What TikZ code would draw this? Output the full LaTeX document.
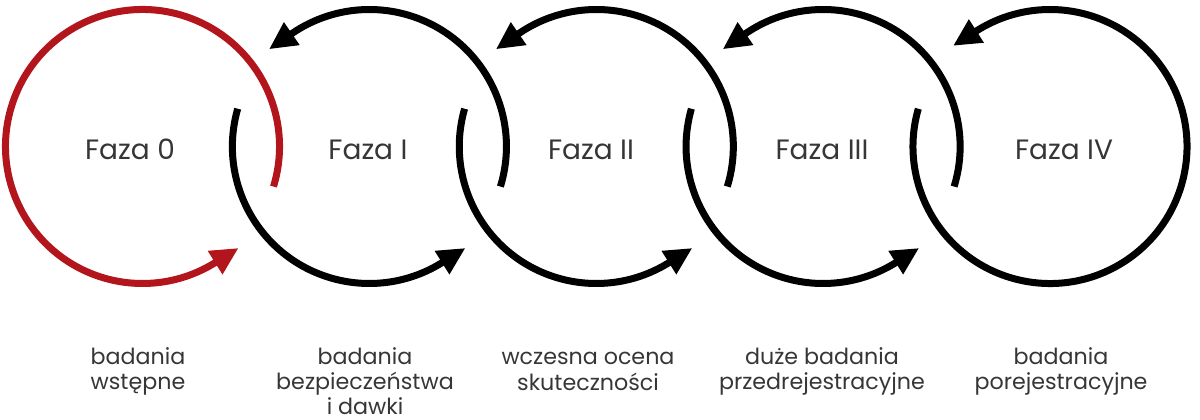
\documentclass[tikz,border=0pt]{standalone}
\usepackage{fontspec}
\setmainfont{Poppins}
\definecolor{phred}{HTML}{B3151C}
\definecolor{phtext}{HTML}{363636}
\tikzset{
  ring/.style={line width=7pt},
  phase/.style={font=\fontsize{28}{32}\selectfont, text=phtext, anchor=base, inner sep=0pt},
  desc/.style={font=\fontsize{22.2}{25}\selectfont, text=phtext, align=center, anchor=north, inner sep=0pt},
}
% center, start angle, angle of the arrowhead's base, colour
\newcommand\phasearc[4]{%
  \draw[ring,#4] (#1) ++(#2:137) arc[start angle=#2, end angle={#3+0.8}, radius=137];
  \fill[#4, shift={(#1)}, rotate=#3] (123,0) -- (151,0) -- (137,27) -- cycle;
}
\begin{document}
\begin{tikzpicture}[x=1pt,y=1pt]
\useasboundingbox (0,0) rectangle (1200,420);
\coordinate (c0) at (142.5,273.5);
\coordinate (c1) at (369.4,273.5);
\coordinate (c2) at (596.3,273.5);
\coordinate (c3) at (823.1,273.5);
\coordinate (c4) at (1050,273.5);

\phasearc{c0}{-17}{302}{phred}
\phasearc{c1}{-17}{124.5}{black}
\phasearc{c1}{164}{302}{black}
\phasearc{c2}{-17}{124.5}{black}
\phasearc{c2}{164}{302}{black}
\phasearc{c3}{-17}{124.5}{black}
\phasearc{c3}{164}{302}{black}
\phasearc{c4}{164}{482.5}{black}

\node[phase] (f0) at (130,260) {Faza 0};
\node[phase] (f1) at (368,260) {Faza I};
\node[phase] (f2) at (591,260) {Faza II};
\node[phase] (f3) at (822,260) {Faza III};
\node[phase] (f4) at (1064,260) {Faza IV};

\node[desc] (d0) at (138,73.5) {\strut badania\\wstępne};
\node[desc] (d1) at (365,73.5) {\strut badania\\bezpieczeństwa\\i dawki};
\node[desc] (d2) at (588,73.5) {\strut wczesna ocena\\skuteczności};
\node[desc] (d3) at (822,73.5) {\strut duże badania\\przedrejestracyjne};
\node[desc] (d4) at (1061,73.5) {\strut badania\\porejestracyjne};
\end{tikzpicture}
\end{document}
